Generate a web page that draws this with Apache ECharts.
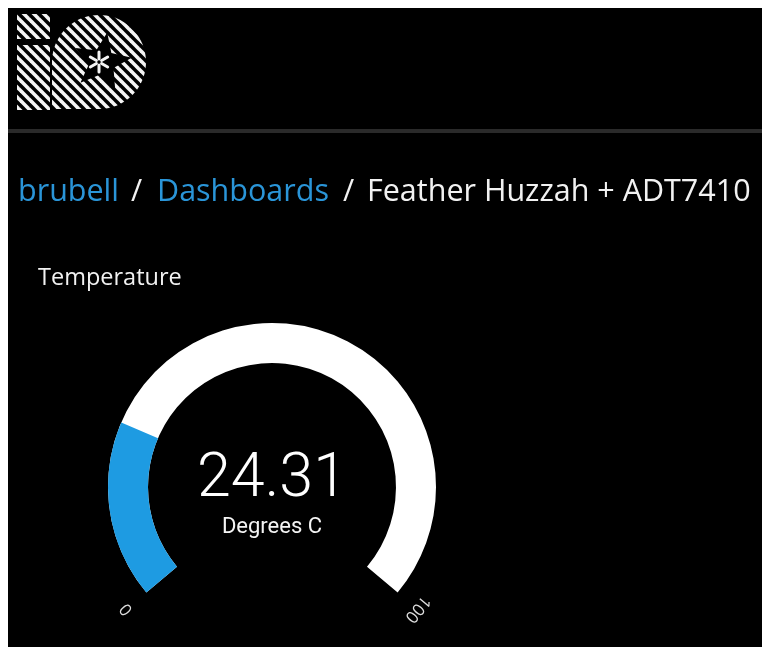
<!DOCTYPE html>
<html>
<head>
<meta charset="utf-8">
<script src="https://cdn.jsdelivr.net/npm/echarts@6/dist/echarts.min.js"></script>
<style>
html,body{margin:0;padding:0;background:#fff;}
#chart{width:762px;height:647px;}
</style>
</head>
<body>
<div id="chart"></div>
<script>
// ---- data ----
var gaugeValue = [24.31];
var gaugeName = ['Degrees C'];
var gaugeMin = 0;
var gaugeMax = 100;
var tickLabels = ['0', '100'];
var panelTitle = 'Temperature';
var crumbLinks = ['brubell', 'Dashboards'];
var crumbCurrent = 'Feather Huzzah + ADT7410';

// ---- stripe pattern for the logo ----
var tile = document.createElement('canvas');
tile.width = 10; tile.height = 10;
var tc = tile.getContext('2d');
tc.fillStyle = '#000'; tc.fillRect(0, 0, 10, 10);
tc.strokeStyle = '#f4f4f4'; tc.lineWidth = 3.6;
[[-5, -5, 15, 15], [-5, 5, 5, 15], [5, -5, 15, 5]].forEach(function (l) {
  tc.beginPath(); tc.moveTo(l[0], l[1]); tc.lineTo(l[2], l[3]); tc.stroke();
});
var stripes = { image: tile, repeat: 'repeat' };

function starPoints(cx, cy, ro, ri, rot) {
  var pts = [];
  for (var i = 0; i < 10; i++) {
    var r = i % 2 === 0 ? ro : ri;
    var a = (rot + i * 36 - 90) * Math.PI / 180;
    pts.push([cx + r * Math.cos(a), cy + r * Math.sin(a)]);
  }
  return pts;
}
// "O" of the logo: rounded everywhere except the lower-left corner
function oShape(x0, cx, cy, r) {
  var pts = [[x0, cy + r], [x0, cy]];
  for (var i = 0; i <= 60; i++) {
    var a = Math.PI + 1.5 * Math.PI * i / 60;
    pts.push([cx + r * Math.cos(a), cy + r * Math.sin(a)]);
  }
  return pts;
}

var petals = [];
for (var k = 0; k < 6; k++) {
  var a = (k * 60 - 90) * Math.PI / 180;
  petals.push({
    type: 'line',
    shape: { x1: 99 + 3 * Math.cos(a), y1: 62 + 3 * Math.sin(a), x2: 99 + 10 * Math.cos(a), y2: 62 + 10 * Math.sin(a) },
    style: { stroke: '#f4f4f4', lineWidth: 3, lineCap: 'round' }
  });
}

var crumbFont = '"Open Sans", sans-serif';
var crumbSize = '30.5px ';
var graphics = [
  { type: 'rect', shape: { x: 0, y: 0, width: 762, height: 8 }, style: { fill: '#fff' } },
  { type: 'rect', shape: { x: 0, y: 0, width: 8, height: 647 }, style: { fill: '#fff' } },
  { type: 'rect', shape: { x: 8, y: 129, width: 754, height: 4 }, style: { fill: '#2a2a2a' } },
  { type: 'rect', shape: { x: 17, y: 14, width: 33, height: 25 }, style: { fill: stripes } },
  { type: 'rect', shape: { x: 17, y: 45, width: 33, height: 65 }, style: { fill: stripes } },
  { type: 'polygon', shape: { points: oShape(52, 99, 62, 47) }, style: { fill: stripes } },
  { type: 'polygon', shape: { points: starPoints(102, 62, 30, 13, 10) }, style: { fill: '#000' } }
].concat(petals).concat([
  { type: 'text', x: 18, y: 192, style: { text: crumbLinks[0], fill: '#2a95d8', font: crumbSize + crumbFont, textVerticalAlign: 'middle' } },
  { type: 'text', x: 131, y: 192, style: { text: '/', fill: '#f2f2f2', font: crumbSize + crumbFont, textVerticalAlign: 'middle' } },
  { type: 'text', x: 157, y: 192, style: { text: crumbLinks[1], fill: '#2a95d8', font: crumbSize + crumbFont, textVerticalAlign: 'middle' } },
  { type: 'text', x: 343, y: 192, style: { text: '/', fill: '#f2f2f2', font: crumbSize + crumbFont, textVerticalAlign: 'middle' } },
  { type: 'text', x: 367, y: 192, style: { text: crumbCurrent, fill: '#f2f2f2', font: crumbSize + crumbFont, textVerticalAlign: 'middle' } },
  { type: 'text', x: 38, y: 278, style: { text: panelTitle, fill: '#f2f2f2', font: '23.5px ' + crumbFont, textVerticalAlign: 'middle' } }
]);

var chart = echarts.init(document.getElementById('chart'), null, { renderer: 'canvas' });
chart.setOption({
  backgroundColor: '#000',
  animation: false,
  graphic: graphics,
  series: [{
    type: 'gauge',
    center: [272, 487],
    radius: 164,
    startAngle: 220,
    endAngle: -40,
    min: gaugeMin,
    max: gaugeMax,
    splitNumber: tickLabels.length - 1,
    axisLine: { roundCap: false, lineStyle: { width: 40, color: [[1, '#ffffff']] } },
    progress: { show: true, width: 40, roundCap: false, itemStyle: { color: '#1e9be2' } },
    pointer: { show: false },
    anchor: { show: false },
    axisTick: { show: false },
    splitLine: { show: false, length: 0, distance: 0 },
    axisLabel: {
      show: true,
      distance: -26,
      rotate: 'tangential',
      color: '#dddddd',
      fontSize: 17,
      fontFamily: crumbFont,
      formatter: function (v) {
        var idx = Math.round((v - gaugeMin) / (gaugeMax - gaugeMin) * (tickLabels.length - 1));
        return tickLabels[idx];
      }
    },
    title: {
      show: true,
      offsetCenter: [0, 40],
      color: '#f4f4f4',
      fontSize: 22,
      fontFamily: 'Roboto, sans-serif'
    },
    detail: {
      show: true,
      offsetCenter: [0, -6],
      color: '#ffffff',
      fontSize: 61,
      fontWeight: 300,
      fontFamily: 'Roboto, sans-serif',
      formatter: function (v) { return v.toFixed(2); }
    },
    data: gaugeValue.map(function (v, i) { return { value: v, name: gaugeName[i] }; })
  }]
});
</script>
</body>
</html>
